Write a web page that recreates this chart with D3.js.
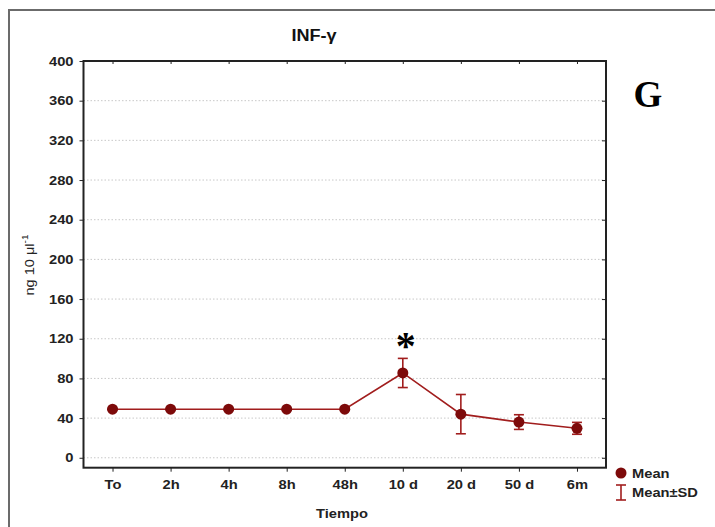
<!DOCTYPE html>
<html>
<head>
<meta charset="utf-8">
<script src="https://cdn.jsdelivr.net/npm/d3@7"></script>
<style>
  html, body { margin: 0; padding: 0; background: #fff; }
  svg { display: block; }
</style>
</head>
<body>
<svg id="chart" width="715" height="527"></svg>
<script>
// INF-γ concentration over time (mean ± SD)
const categories = ["To", "2h", "4h", "8h", "48h", "10 d", "20 d", "50 d", "6m"];
const means = [49, 49, 49, 49, 49, 85.5, 44, 36, 29.7];
const sds = [0.6, 0.6, 0.6, 0.6, 0.8, 14.7, 19.8, 7.4, 6];
const yTicks = [0, 40, 80, 120, 160, 200, 240, 280, 320, 360, 400];
const markedCategory = "10 d";

const svg = d3.select("#chart");
const sans = "Arial, 'Liberation Sans', sans-serif";
const serif = "'Liberation Serif', 'Times New Roman', serif";
const darkRed = "#7d0a0a";
const lineRed = "#a11d1d";
const stretch = 1.13; // labels are set slightly wide

const plotLeft = 83.5, plotRight = 606, plotTop = 61, plotBottom = 467.7;

const x = d3.scalePoint().domain(categories).range([plotLeft, plotRight]).padding(0.5);
const y = d3.scaleLinear().domain([-10, 400]).range([plotBottom, plotTop]);

// Text placed at (tx, ty) and widened horizontally
function wideText(parent, tx, ty, label, opts) {
  const t = parent.append("text")
    .attr("transform", `translate(${tx},${ty}) scale(${stretch},1)`)
    .attr("text-anchor", opts.anchor || "start")
    .style("font-family", opts.family || sans)
    .style("font-size", opts.size + "px")
    .style("font-weight", opts.weight || "normal")
    .attr("fill", opts.fill || "#222")
    .text(label);
  return t;
}

// Outer frame (top and left edges)
svg.append("path")
  .attr("d", `M9,528 L9,10 L716,10`)
  .attr("fill", "none").attr("stroke", "#6b6b6b").attr("stroke-width", 2);

// Dotted grid lines
svg.append("g").selectAll("line").data(yTicks.filter(d => d < 400)).join("line")
  .attr("x1", plotLeft).attr("x2", plotRight)
  .attr("y1", d => y(d)).attr("y2", d => y(d))
  .attr("stroke", "#c8c8c8").attr("stroke-width", 1).attr("stroke-dasharray", "1.5,2");

// Axes
const axisStyle = g => {
  g.select(".domain").remove();
  g.selectAll(".tick line").attr("stroke", "#222").attr("stroke-width", 1);
  g.selectAll(".tick text")
    .style("font-family", sans).style("font-size", "13px").style("font-weight", "bold")
    .attr("fill", "#222");
};

svg.append("g").attr("transform", `translate(${plotLeft},0)`)
  .call(d3.axisLeft(y).tickValues(yTicks).tickSize(4).tickPadding(6))
  .call(axisStyle)
  .call(g => g.selectAll(".tick text")
    .attr("transform", `translate(-10,0) scale(${stretch},1)`).attr("x", 0));
svg.append("g").attr("transform", `translate(${plotRight},0)`)
  .call(d3.axisLeft(y).tickValues(yTicks).tickSize(4).tickFormat(""))
  .call(axisStyle);
svg.append("g").attr("transform", `translate(0,${plotBottom})`)
  .call(d3.axisBottom(x).tickSize(4).tickPadding(8))
  .call(axisStyle)
  .call(g => g.selectAll(".tick text").attr("transform", `scale(${stretch},1)`));
svg.append("g").attr("transform", `translate(0,${plotTop})`)
  .call(d3.axisBottom(x).tickSize(3).tickFormat(""))
  .call(axisStyle);

// Plot frame
svg.append("rect")
  .attr("x", plotLeft).attr("y", plotTop)
  .attr("width", plotRight - plotLeft).attr("height", plotBottom - plotTop)
  .attr("fill", "none").attr("stroke", "#222").attr("stroke-width", 2);

const data = categories.map((c, i) => ({ c, m: means[i], sd: sds[i] }));

// Mean line
svg.append("path").datum(data)
  .attr("d", d3.line().x(d => x(d.c)).y(d => y(d.m)))
  .attr("fill", "none").attr("stroke", lineRed).attr("stroke-width", 1.6);

// Error bars
const eb = svg.append("g").attr("stroke", lineRed).attr("stroke-width", 1.6);
data.forEach(d => {
  const cx = x(d.c), y1 = y(d.m + d.sd), y2 = y(d.m - d.sd);
  eb.append("line").attr("x1", cx).attr("x2", cx).attr("y1", y1).attr("y2", y2);
  eb.append("line").attr("x1", cx - 5).attr("x2", cx + 5).attr("y1", y1).attr("y2", y1);
  eb.append("line").attr("x1", cx - 5).attr("x2", cx + 5).attr("y1", y2).attr("y2", y2);
});

// Mean markers
svg.append("g").selectAll("circle").data(data).join("circle")
  .attr("cx", d => x(d.c)).attr("cy", d => y(d.m)).attr("r", 5.5)
  .attr("fill", darkRed);

// Significance marker
const md = data.find(d => d.c === markedCategory);
svg.append("text")
  .attr("x", x(md.c) + 3).attr("y", y(md.m + md.sd) + 1)
  .attr("text-anchor", "middle")
  .style("font-family", serif).style("font-size", "40px").style("font-weight", "bold")
  .attr("fill", "#000")
  .text("*");

// Title
wideText(svg, 314, 41, "INF-γ", { anchor: "middle", size: 16, weight: "bold", fill: "#111" });

// Panel letter
svg.append("text").attr("x", 648).attr("y", 107).attr("text-anchor", "middle")
  .style("font-family", serif).style("font-size", "37px").style("font-weight", "bold")
  .attr("fill", "#000").text("G");

// Axis titles
wideText(svg, 342, 518, "Tiempo", { anchor: "middle", size: 13, weight: "bold" });

const yl = svg.append("text")
  .attr("transform", "translate(34,265) rotate(-90) scale(1.12,1)")
  .attr("text-anchor", "middle")
  .style("font-family", sans).style("font-size", "13px")
  .attr("fill", "#222");
yl.append("tspan").text("ng 10 μl");
yl.append("tspan").style("font-size", "9px").attr("dy", -6).text("-1");

// Legend
const lg = svg.append("g").attr("transform", "translate(621,0)");
lg.append("circle").attr("cx", 0).attr("cy", 473).attr("r", 5.5).attr("fill", darkRed);
wideText(lg, 11, 478, "Mean", { size: 13, weight: "bold" });
lg.append("line").attr("x1", 0).attr("x2", 0).attr("y1", 485).attr("y2", 500)
  .attr("stroke", lineRed).attr("stroke-width", 1.6);
lg.append("line").attr("x1", -5).attr("x2", 5).attr("y1", 485).attr("y2", 485)
  .attr("stroke", lineRed).attr("stroke-width", 1.6);
lg.append("line").attr("x1", -5).attr("x2", 5).attr("y1", 500).attr("y2", 500)
  .attr("stroke", lineRed).attr("stroke-width", 1.6);
wideText(lg, 11, 497, "Mean±SD", { size: 13, weight: "bold" });
</script>
</body>
</html>
